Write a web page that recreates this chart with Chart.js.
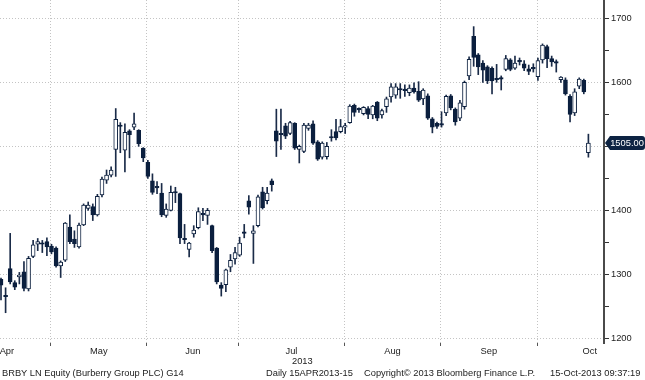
<!DOCTYPE html>
<html>
<head>
<meta charset="utf-8">
<script src="https://cdn.jsdelivr.net/npm/chart.js@4.4.0/dist/chart.umd.min.js"></script>
<style>
  html, body { margin: 0; padding: 0; background: #fff; }
  #wrap { position: relative; width: 645px; height: 380px; overflow: hidden; }
  #chart { position: absolute; left: 0; top: 0; }
  .txt { position: absolute; font: 9.3px 'Liberation Sans', Arial, sans-serif; color: #222; white-space: nowrap; line-height: 10px; }
</style>
</head>
<body>
<div id="wrap">
  <canvas id="chart" width="645" height="380"></canvas>
  <div class="txt" style="left:292px;top:356px">2013</div>
  <div class="txt" style="left:2px;top:368px">BRBY LN Equity (Burberry Group PLC) G14</div>
  <div class="txt" style="left:266px;top:368px">Daily 15APR2013-15</div>
  <div class="txt" style="left:364px;top:368px">Copyright© 2013 Bloomberg Finance L.P.</div>
  <div class="txt" style="left:550px;top:368px">15-Oct-2013 09:37:19</div>
</div>
<script>
// months on the axis, candles shown per month, and trading days in the full month
const monthNames = ['Apr', 'May', 'Jun', 'Jul', 'Aug', 'Sep', 'Oct'];
const monthSessions = [11, 21, 20, 23, 21, 21, 12];
const fullMonthSessions = [22, 21, 20, 23, 21, 21, 23];

const yTicks = [1200, 1250, 1300, 1350, 1400, 1450, 1500, 1550, 1600, 1650, 1700];

// daily OHLC, 15 Apr - 15 Oct 2013
const opens = [
  1292, 1267, 1309, 1287, 1296, 1304, 1277, 1328, 1347, 1348, 1351,
  1344, 1341, 1313, 1322, 1374, 1355, 1343, 1377, 1403, 1406, 1393, 1424, 1447, 1455, 1495, 1533, 1494, 1524, 1530, 1525, 1497,
  1475, 1446, 1437, 1427, 1392, 1400, 1429, 1426, 1356, 1339, 1363, 1373, 1395, 1392, 1376, 1341, 1283, 1284, 1311, 1324,
  1330, 1366, 1415, 1364, 1376, 1429, 1415, 1446, 1524, 1520, 1532, 1520, 1536, 1495, 1492, 1528, 1535, 1507, 1483, 1484, 1515, 1523, 1523,
  1530, 1537, 1564, 1558, 1551, 1559, 1549, 1569, 1549, 1562, 1577, 1580, 1590, 1589, 1584, 1591, 1586, 1574, 1579, 1543, 1536,
  1534, 1552, 1579, 1558, 1544, 1562, 1610, 1672, 1643, 1630, 1624, 1622, 1606, 1606, 1620, 1635, 1622, 1634, 1629, 1621, 1623,
  1609, 1635, 1656, 1637, 1631, 1604, 1604, 1578, 1552, 1594, 1603, 1490
];
const highs = [
  1294, 1279, 1364, 1290, 1303, 1320, 1328, 1353, 1356, 1353, 1357,
  1347, 1343, 1321, 1381, 1393, 1368, 1380, 1410, 1413, 1410, 1425, 1452, 1463, 1468, 1559, 1537, 1535, 1526, 1552, 1526, 1498,
  1478, 1457, 1445, 1442, 1410, 1438, 1436, 1427, 1378, 1350, 1376, 1404, 1403, 1403, 1377, 1342, 1287, 1308, 1331, 1342,
  1358, 1378, 1423, 1376, 1424, 1436, 1436, 1449, 1558, 1558, 1536, 1539, 1537, 1502, 1536, 1536, 1540, 1509, 1507, 1506, 1526, 1542, 1542,
  1536, 1565, 1566, 1560, 1562, 1562, 1564, 1570, 1558, 1577, 1598, 1598, 1598, 1596, 1596, 1599, 1601, 1590, 1582, 1545, 1538,
  1554, 1580, 1581, 1560, 1572, 1602, 1640, 1687, 1645, 1634, 1626, 1624, 1628, 1610, 1642, 1637, 1641, 1638, 1634, 1627, 1629,
  1638, 1660, 1658, 1641, 1635, 1609, 1607, 1581, 1590, 1607, 1605, 1519
];
const lows = [
  1260, 1240, 1285, 1276, 1285, 1274, 1274, 1326, 1337, 1334, 1329,
  1332, 1311, 1295, 1320, 1348, 1342, 1341, 1376, 1400, 1384, 1391, 1421, 1442, 1452, 1453, 1490, 1460, 1482, 1526, 1500, 1476,
  1450, 1425, 1426, 1390, 1389, 1399, 1412, 1348, 1348, 1327, 1358, 1371, 1384, 1378, 1334, 1285, 1266, 1273, 1304, 1316,
  1328, 1357, 1394, 1317, 1374, 1402, 1410, 1430, 1484, 1495, 1512, 1518, 1495, 1474, 1490, 1525, 1503, 1478, 1480, 1480, 1508, 1510, 1521,
  1520, 1536, 1547, 1553, 1549, 1543, 1543, 1540, 1544, 1553, 1569, 1575, 1575, 1578, 1579, 1583, 1570, 1565, 1542, 1521, 1528,
  1530, 1548, 1557, 1533, 1540, 1558, 1604, 1625, 1612, 1600, 1598, 1582, 1600, 1588, 1618, 1618, 1620, 1627, 1618, 1612, 1616,
  1603, 1630, 1623, 1625, 1616, 1600, 1580, 1538, 1548, 1590, 1582, 1483
];
const closes = [
  1283, 1265, 1288, 1280, 1299, 1278, 1325, 1346, 1351, 1347, 1343,
  1335, 1313, 1319, 1380, 1351, 1348, 1377, 1408, 1408, 1393, 1422, 1449, 1455, 1463, 1542, 1531, 1522, 1518, 1535, 1504, 1482,
  1453, 1428, 1435, 1393, 1402, 1428, 1427, 1357, 1354, 1349, 1369, 1398, 1393, 1400, 1337, 1288, 1278, 1307, 1322, 1334,
  1349, 1364, 1405, 1368, 1421, 1404, 1427, 1440, 1508, 1518, 1516, 1537, 1497, 1500, 1533, 1533, 1505, 1480, 1505, 1500, 1513, 1513, 1531,
  1531, 1563, 1553, 1557, 1561, 1550, 1563, 1544, 1556, 1574, 1593, 1593, 1588, 1587, 1591, 1585, 1572, 1588, 1544, 1530, 1531,
  1533, 1578, 1560, 1538, 1568, 1600, 1636, 1639, 1624, 1619, 1602, 1602, 1604, 1605, 1637, 1620, 1630, 1632, 1622, 1617, 1621,
  1634, 1658, 1637, 1632, 1630, 1608, 1582, 1550, 1585, 1605, 1585, 1505
];

const lastPrice = closes[closes.length - 1];
const navy = '#0b1f3e';

// month boundaries (grid) and month label positions, in session units
const boundaries = [];
let acc = 0;
monthSessions.slice(0, -1).forEach(n => { acc += n; boundaries.push(acc - 0.2); });
const xMin = -0.22, xMax = 131.4;
const monthLabelAt = monthNames.map((name, k) => {
  const start = k === 0 ? boundaries[0] - fullMonthSessions[0] : boundaries[k - 1];
  const mid = start + fullMonthSessions[k] / 2;
  return { value: Math.min(Math.max(mid, xMin + 1.5), xMax - 1.5), name };
});
const xLabels = new Map(monthLabelAt.map(m => [m.value, m.name]));
const xTicks = boundaries.concat(monthLabelAt.map(m => m.value));

const bodies = opens.map((o, i) => ({ x: i, y: [o, closes[i]] }));
const wicks = lows.map((l, i) => ({ x: i, y: [l, highs[i]] }));
const isDown = i => closes[i] < opens[i];

const lastPriceTag = {
  id: 'lastPriceTag',
  afterDraw(chart) {
    const { ctx, chartArea } = chart;
    const py = Math.round(chart.scales.y.getPixelForValue(lastPrice));
    const x0 = chartArea.right + 1, x1 = 645, h = 7, r = 3;
    ctx.save();
    ctx.fillStyle = '#0d2342';
    ctx.beginPath();
    ctx.moveTo(x0, py);
    ctx.lineTo(x0 + 5, py - h);
    ctx.lineTo(x1 - r, py - h);
    ctx.quadraticCurveTo(x1, py - h, x1, py - h + r);
    ctx.lineTo(x1, py + h - r);
    ctx.quadraticCurveTo(x1, py + h, x1 - r, py + h);
    ctx.lineTo(x0 + 5, py + h);
    ctx.closePath();
    ctx.fill();
    ctx.fillStyle = '#fff';
    ctx.font = "9.3px 'Liberation Sans', Arial, sans-serif";
    ctx.textAlign = 'center';
    ctx.textBaseline = 'middle';
    ctx.fillText(lastPrice.toFixed(2), 627, py + 0.5);
    ctx.restore();
  }
};

const tickFont = { family: "'Liberation Sans', Arial, sans-serif", size: 9.3 };

new Chart(document.getElementById('chart'), {
  type: 'bar',
  data: {
    datasets: [
      {
        data: bodies,
        order: 1,
        grouped: false,
        barThickness: 4,
        minBarLength: 1.5,
        borderWidth: 1,
        borderSkipped: false,
        borderColor: navy,
        backgroundColor: ctx => isDown(ctx.dataIndex) ? navy : '#ffffff'
      },
      {
        data: wicks,
        order: 2,
        grouped: false,
        barThickness: 1,
        borderWidth: 0,
        backgroundColor: '#1a2b48'
      }
    ]
  },
  options: {
    responsive: false,
    animation: false,
    devicePixelRatio: 1,
    layout: { padding: 0 },
    plugins: { legend: { display: false }, tooltip: { enabled: false } },
    scales: {
      x: {
        type: 'linear',
        min: xMin,
        max: xMax,
        offset: false,
        afterBuildTicks: scale => { scale.ticks = xTicks.map(v => ({ value: v })); },
        afterFit: scale => {
          scale.height = 37;
          scale.paddingLeft = scale.paddingRight = 0;
        },
        grid: {
          offset: false,
          lineWidth: 1,
          tickLength: 3,
          color: ctx => ctx.tick && xLabels.has(ctx.tick.value) ? 'rgba(0,0,0,0)' : '#c4c4c4',
          tickColor: ctx => ctx.tick && xLabels.has(ctx.tick.value) ? 'rgba(0,0,0,0)' : '#555'
        },
        border: { display: false, dash: [1, 2] },
        ticks: {
          autoSkip: false,
          maxRotation: 0,
          minRotation: 0,
          padding: 0,
          color: '#222',
          font: tickFont,
          callback: v => xLabels.get(v) || ''
        }
      },
      y: {
        position: 'right',
        min: 1192.7,
        max: 1728.6,
        afterBuildTicks: scale => { scale.ticks = yTicks.map(v => ({ value: v })); },
        afterFit: scale => {
          scale.width = 41;
          scale.paddingTop = scale.paddingBottom = 0;
        },
        grid: {
          lineWidth: 1,
          tickLength: 5,
          color: ctx => ctx.tick && ctx.tick.value % 100 === 0 ? '#c4c4c4' : 'rgba(0,0,0,0)',
          tickColor: '#333'
        },
        border: { display: true, color: '#4a4a4a', width: 2, dash: [1, 2] },
        ticks: {
          padding: 2,
          color: '#222',
          font: tickFont,
          callback: v => v % 100 === 0 ? String(v) : ''
        }
      }
    }
  },
  plugins: [lastPriceTag]
});
</script>
</body>
</html>
